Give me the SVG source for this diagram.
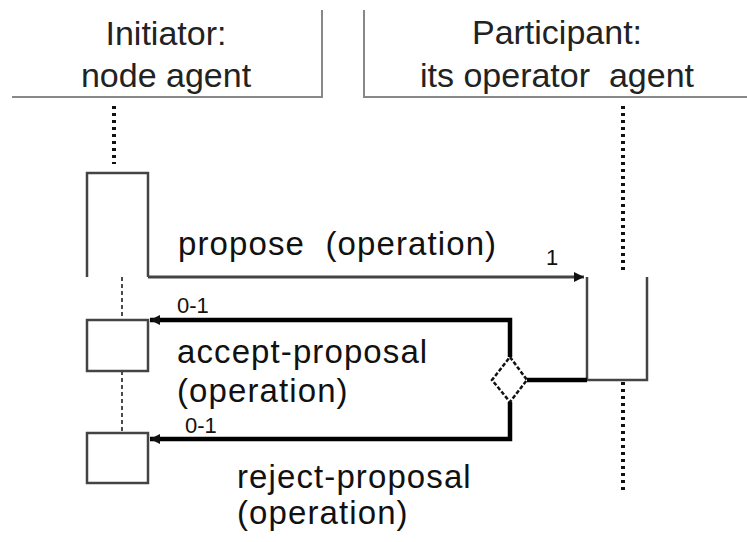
<svg xmlns="http://www.w3.org/2000/svg" width="747" height="542" viewBox="0 0 747 542">
  <style>
    .hdr { font-family: "Liberation Sans", Arial, sans-serif; font-size: 34px; fill: #222; text-anchor: middle; }
    .lbl { font-family: "Liberation Sans", Arial, sans-serif; font-size: 33px; fill: #111; letter-spacing: 1.1px; }
    .mult { font-family: "Liberation Sans", Arial, sans-serif; font-size: 22px; fill: #111; }
    .frame { fill: none; stroke: #888; stroke-width: 2; }
    .act { fill: none; stroke: #444; stroke-width: 2.5; }
    .life { fill: none; stroke: #111; stroke-width: 4; stroke-dasharray: 3 4; }
    .life-thin { fill: none; stroke: #111; stroke-width: 1.5; stroke-dasharray: 4 3; }
    .msg { fill: none; stroke: #444; stroke-width: 3; }
    .reply { fill: none; stroke: #000; stroke-width: 4.5; }
    .choice { fill: #fff; stroke: #111; stroke-width: 2.5; stroke-dasharray: 4 2; }
  </style>
  <defs>
    <marker id="arrow" viewBox="0 0 10 10" refX="10" refY="5" markerWidth="10" markerHeight="10" markerUnits="userSpaceOnUse" orient="auto">
      <path d="M0,0 L10,5 L0,10 z" fill="#111"/>
    </marker>
  </defs>
  <rect width="747" height="542" fill="#fff"/>

  <!-- lifeline headers -->
  <g id="initiator">
    <path class="frame" d="M12,97 H322 V10"/>
    <text class="hdr" x="166" y="45">Initiator:</text>
    <text class="hdr" x="166" y="87">node agent</text>
    <path class="life" d="M114,106 V164"/>
    <path class="act" d="M87,277 V173 H148 V277"/>
    <path class="life-thin" d="M122,277 V320"/>
    <path class="life-thin" d="M122,371 V433"/>
  </g>

  <g id="participant">
    <path class="frame" d="M364,10 V97 H747"/>
    <text class="hdr" x="557" y="44">Participant:</text>
    <text class="hdr" x="557" y="87" xml:space="preserve">its operator  agent</text>
    <path class="life" d="M623,106 V274"/>
    <path class="life" d="M623,382 V492"/>
    <path class="act" d="M587,277 V380 H647 V277"/>
  </g>

  <g id="accept-box">
    <rect class="act" x="87" y="320" width="61" height="51" stroke-width="2"/>
  </g>
  <g id="reject-box">
    <rect class="act" x="87" y="433" width="61" height="50" stroke-width="2"/>
  </g>

  <g id="decision">
    <path class="choice" d="M510,357 L527,380 L510,402 L492,380 z"/>
  </g>

  <!-- messages -->
  <g id="connectors">
    <path class="msg" d="M148,277 H584" marker-end="url(#arrow)"/>
    <path class="reply" d="M587,380 H527"/>
    <path class="reply" d="M510,357 V320 H150" marker-end="url(#arrow)"/>
    <path class="reply" d="M510,402 V439 H150" marker-end="url(#arrow)"/>
  </g>

  <g id="labels">
    <text class="lbl" x="178" y="255" xml:space="preserve">propose  (operation)</text>
    <text class="mult" x="546" y="265">1</text>
    <text class="mult" x="177" y="313">0-1</text>
    <text class="lbl" x="177" y="363">accept-proposal</text>
    <text class="lbl" x="177" y="402">(operation)</text>
    <text class="mult" x="185" y="433">0-1</text>
    <text class="lbl" x="237" y="488">reject-proposal</text>
    <text class="lbl" x="237" y="524">(operation)</text>
  </g>
</svg>
